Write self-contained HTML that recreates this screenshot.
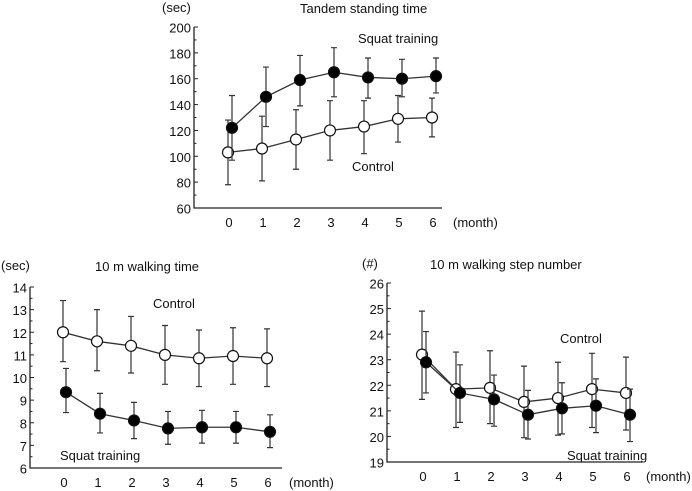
<!DOCTYPE html>
<html><head><meta charset="utf-8">
<style>
html,body{margin:0;padding:0;background:#fff;}
svg{display:block;font-family:"Liberation Sans",Arial,sans-serif;}
text{fill:#111;font-size:13px;}
</style></head>
<body>
<svg id="fig" width="692" height="491" viewBox="0 0 692 491"></svg>
<script>
const months = [0,1,2,3,4,5,6];
// Tandem standing time
const tandemControl = [103,106,113,120,123,129,130];
const tandemControlLo = [78,81,90,97,102,111,115];
const tandemControlHi = [128,131,136,143,143,147,145];
const tandemSquat = [122,146,159,165,161,160,162];
const tandemSquatLo = [97,123,139,146,145,146,149];
const tandemSquatHi = [147,169,178,184,176,175,176];
const tandemTicks = [60,80,100,120,140,160,180,200];
// 10 m walking time
const walkControl = [12.0,11.6,11.4,11.0,10.85,10.95,10.85];
const walkControlLo = [10.7,10.3,10.2,9.7,9.6,9.7,9.6];
const walkControlHi = [13.4,13.0,12.7,12.3,12.1,12.2,12.15];
const walkSquat = [9.35,8.4,8.1,7.75,7.8,7.8,7.6];
const walkSquatLo = [8.45,7.55,7.3,7.05,7.1,7.1,6.9];
const walkSquatHi = [10.4,9.3,8.9,8.5,8.55,8.5,8.35];
const walkTicks = [6,7,8,9,10,11,12,13,14];
// 10 m walking step number
const stepControl = [23.2,21.85,21.9,21.35,21.5,21.85,21.7];
const stepControlLo = [21.45,20.35,20.5,19.95,20.05,20.35,20.25];
const stepControlHi = [24.9,23.3,23.35,22.75,22.9,23.25,23.1];
const stepSquat = [22.9,21.7,21.45,20.85,21.1,21.2,20.85];
const stepSquatLo = [21.7,20.55,20.4,19.9,20.1,20.15,19.8];
const stepSquatHi = [24.1,22.8,22.4,21.8,22.1,22.25,21.85];
const stepTicks = [19,20,21,22,23,24,25,26];

const NS="http://www.w3.org/2000/svg";
const svg=document.getElementById('fig');
function mk(tag,attrs,parent,txt){const e=document.createElementNS(NS,tag);for(const k in attrs)e.setAttribute(k,attrs[k]);if(txt!==undefined)e.textContent=txt;(parent||svg).appendChild(e);return e;}

function panel(p){
  const g=mk('g',{});
  
  
  const ymin=p.ticks[0], ymax=p.ticks[p.ticks.length-1];
  const Y=v=>p.yTop+(ymax-v)/(ymax-ymin)*(p.yBot-p.yTop);
  const X=(m,off)=>p.x0+m*p.step+off;
  const ax=mk('path',{d:`M${p.ax},${p.yTop} V${p.yBot} H${p.axEnd}`,stroke:'#222','stroke-width':1.3,fill:'none'},g);
  
  
  p.ticks.forEach((t,i)=>{
    const y=Y(t);
    mk('line',{x1:p.ax,x2:p.ax+4,y1:y,y2:y,stroke:'#222','stroke-width':1},g);
    if(i<p.ticks.length-1){const ym=Y(t+(p.ticks[1]-p.ticks[0])/2);mk('line',{x1:p.ax,x2:p.ax+2.5,y1:ym,y2:ym,stroke:'#222','stroke-width':1},g);}
    const tl=mk('text',{x:p.ax-3,y:y+5.5,'text-anchor':'end','font-size':15.5},g,String(t));
    
    
  });
  months.forEach(m=>{
    const tl=mk('text',{x:X(m,1),y:p.yBot+19,'text-anchor':'middle','font-size':14.5},g,String(m));
    
    
  });
  const mo=mk('text',{x:p.monthX,y:p.yBot+19,'font-size':13.5},g,'(month)');
  
  
  const un=mk('text',{x:p.unitX,y:p.unitY,'font-size':13},g,p.unit);
  
  
  const ti=mk('text',{x:p.titleX,y:p.unitY+1,'font-size':13.5},g,p.title);
  
  
  function series(vals,lo,hi,off,fill,name){
    const sg=mk('g',{},g);
    
    
    const ln=mk('polyline',{points:vals.map((v,i)=>X(months[i],off)+','+Y(v)).join(' '),fill:'none',stroke:'#333','stroke-width':1.3},sg);
    
    
    vals.forEach((v,i)=>{
      const x=X(months[i],off);
      const eb=mk('path',{d:`M${x},${Y(lo[i])} V${Y(hi[i])} M${x-3},${Y(lo[i])} H${x+3} M${x-3},${Y(hi[i])} H${x+3}`,stroke:'#333','stroke-width':1.2,fill:'none'},sg);
      
      
    });
    vals.forEach((v,i)=>{
      const c=mk('circle',{cx:X(months[i],off),cy:Y(v),r:5.5,fill:fill,stroke:'#111','stroke-width':1.2},sg);
      
      
    });
  }
  series(p.c,p.cl,p.ch,0,'#fff','control-series');
  series(p.s,p.sl,p.sh,p.off,'#000','squat-series');
  const l1=mk('text',{x:p.cLab[0],y:p.cLab[1],'font-size':14},g,'Control');
  
  
  const l2=mk('text',{x:p.sLab[0],y:p.sLab[1],'font-size':14},g,'Squat training');
  
  
}

panel({name:'tandem-standing-chart',ticks:tandemTicks,yTop:27,yBot:208,ax:194,axEnd:442,x0:228,step:34,off:4,
  c:tandemControl,cl:tandemControlLo,ch:tandemControlHi,s:tandemSquat,sl:tandemSquatLo,sh:tandemSquatHi,
  monthX:453,unit:'(sec)',unitX:162,unitY:12,title:'Tandem standing time',titleX:300,cLab:[352,171],sLab:[358,43]});
panel({name:'walking-time-chart',ticks:walkTicks,yTop:287,yBot:468,ax:30,axEnd:282,x0:63,step:34,off:3,
  c:walkControl,cl:walkControlLo,ch:walkControlHi,s:walkSquat,sl:walkSquatLo,sh:walkSquatHi,
  monthX:289,unit:'(sec)',unitX:1,unitY:270,title:'10 m walking time',titleX:95,cLab:[153,308],sLab:[60,460]});
panel({name:'step-number-chart',ticks:stepTicks,yTop:283,yBot:462,ax:387,axEnd:642,x0:422,step:34,off:4,
  c:stepControl,cl:stepControlLo,ch:stepControlHi,s:stepSquat,sl:stepSquatLo,sh:stepSquatHi,
  monthX:646,unit:'(#)',unitX:362,unitY:268,title:'10 m walking step number',titleX:430,cLab:[560,343],sLab:[567,460]});
</script>
</body></html>
